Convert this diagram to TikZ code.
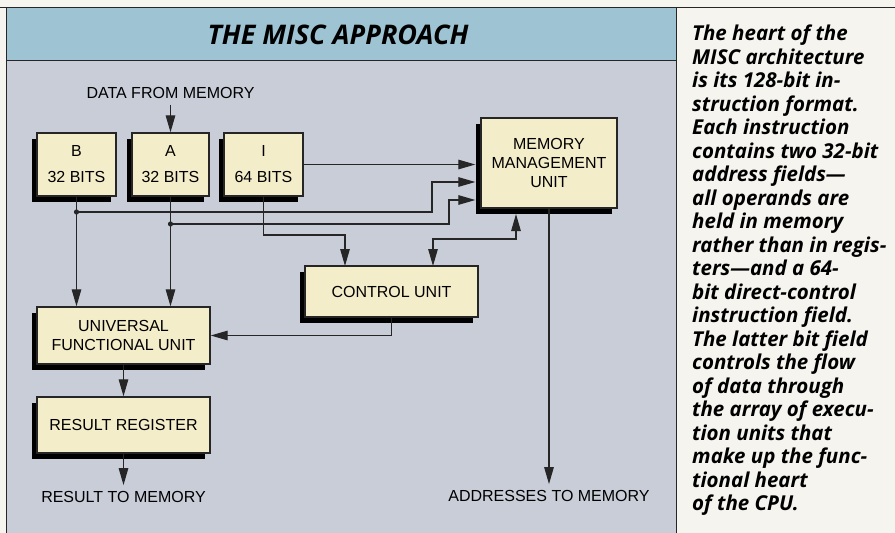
\documentclass[tikz,border=0pt]{standalone}
\usepackage{fontspec}
\setmainfont{Liberation Sans}
\newfontfamily\blurbfont{Open Sans}
\usetikzlibrary{arrows.meta,shadows}
\definecolor{paper}{HTML}{F6F4EE}
\definecolor{band}{HTML}{9EC4D4}
\definecolor{panel}{HTML}{C9CDD8}
\definecolor{cream}{HTML}{F4EDC9}
\definecolor{ink}{HTML}{262626}

\begin{document}
\begin{tikzpicture}[x=1pt,y=-1pt,
  unit/.style={draw=ink,line width=1.3pt,fill=cream,inner sep=0pt,align=center,
    font=\fontsize{16}{19}\selectfont,
    drop shadow={shadow xshift=-5pt,shadow yshift=-6pt,opacity=1,fill=black}},
  io/.style={inner sep=6pt,font=\fontsize{16}{19}\selectfont},
  wire/.style={line width=1.2pt,draw=ink},
  tip/.style={-{Triangle[length=17pt,width=9.5pt]}},
  tips/.style={{Triangle[length=17pt,width=9.5pt]}-{Triangle[length=17pt,width=9.5pt]}}]
  \useasboundingbox (0,0) rectangle (895,533);

  % page and panels
  \fill[paper] (0,0) rectangle (895,533);
  \fill[band] (6,7) rectangle (676,60);
  \fill[panel] (6,60) rectangle (676,533);
  \draw[ink,line width=0.8pt] (0,7) -- (895,7);
  \draw[ink,line width=0.8pt] (6,7) -- (6,533);
  \draw[ink,line width=0.8pt] (6,60) -- (676,60);
  \draw[ink,line width=0.8pt] (676,7) -- (676,533);

  \node[font=\blurbfont\fontsize{27}{30}\selectfont\bfseries\itshape] (title) at (338,35) {THE MISC APPROACH};

  % registers
  \node[unit,minimum width=79pt,minimum height=63pt] (B) at (76.5,164.5) {B\\[7pt]32 BITS};
  \node[unit,minimum width=77pt,minimum height=63pt] (A) at (170.5,164.5) {A\\[7pt]32 BITS};
  \node[unit,minimum width=79pt,minimum height=63pt] (I) at (263.5,164.5) {I\\[7pt]64 BITS};

  \node[unit,minimum width=136pt,minimum height=90pt] (MMU) at (549,163) {MEMORY\\MANAGEMENT\\UNIT};
  \node[unit,minimum width=173pt,minimum height=51pt] (CU) at (391.5,291.5) {CONTROL UNIT};
  \node[unit,minimum width=173pt,minimum height=57pt] (UFU) at (123.5,335.5) {UNIVERSAL\\FUNCTIONAL UNIT};
  \node[unit,minimum width=173pt,minimum height=56pt] (RR) at (123.5,425) {RESULT REGISTER};

  % memory labels
  \node[io] (dfm) at (170.5,93) {DATA FROM MEMORY};
  \node[io] (rtm) at (123.5,497) {RESULT TO MEMORY};
  \node[io] (atm) at (549,496) {ADDRESSES TO MEMORY};

  % junctions and bends
  \coordinate (jB) at (76.5,212);
  \coordinate (jA) at (170.5,224);
  \coordinate (bendB) at (432,182);
  \coordinate (bendA) at (449,200);
  \coordinate (iBus) at (345,235);
  \coordinate (cuIn) at (345,266);
  \coordinate (cuOut) at (433,266);
  \coordinate (cmBus) at (433,239);
  \coordinate (mmuIn) at (516,214);

  \draw[wire,tip] (dfm) -- (A);
  \draw[wire,tip] (B) -- (B |- UFU.north);
  \draw[wire,tip] (A) -- (A |- UFU.north);
  \fill[ink] (jB) circle (2.6pt);
  \fill[ink] (jA) circle (2.6pt);

  % address paths into the MMU
  \draw[wire,tip,shorten >=5pt] (I.east) -- (I.east -| MMU.west);
  \draw[wire,tip,shorten >=5pt] (jB) -| (bendB) -- (bendB -| MMU.west);
  \draw[wire,tip,shorten >=5pt] (jA) -| (bendA) -- (bendA -| MMU.west);

  % control paths
  \draw[wire,tip] (I.south) |- (iBus) -- (cuIn);
  \draw[wire,tips] (cuOut) -- (cmBus) -| (mmuIn);
  \draw[wire,tip] (CU.south) |- (UFU.east);

  % results and addresses out
  \draw[wire,tip] (UFU) -- (RR);
  \draw[wire,tip] (RR) -- (rtm);
  \draw[wire,tip] (MMU.south) -- (atm);

  \node[anchor=north west,align=left,inner sep=0pt,
    font=\blurbfont\fontsize{20.5}{23.5}\selectfont\bfseries\itshape] (blurb) at (692,25) {%
    The heart of the\\
    MISC architecture\\
    is its 128-bit in-\\
    struction format.\\
    Each instruction\\
    contains two 32-bit\\
    address fields—\\
    all operands are\\
    held in memory\\
    rather than in regis-\\
    ters—and a 64-\\
    bit direct-control\\
    instruction field.\\
    The latter bit field\\
    controls the flow\\
    of data through\\
    the array of execu-\\
    tion units that\\
    make up the func-\\
    tional heart\\
    of the CPU.};
\end{tikzpicture}
\end{document}
